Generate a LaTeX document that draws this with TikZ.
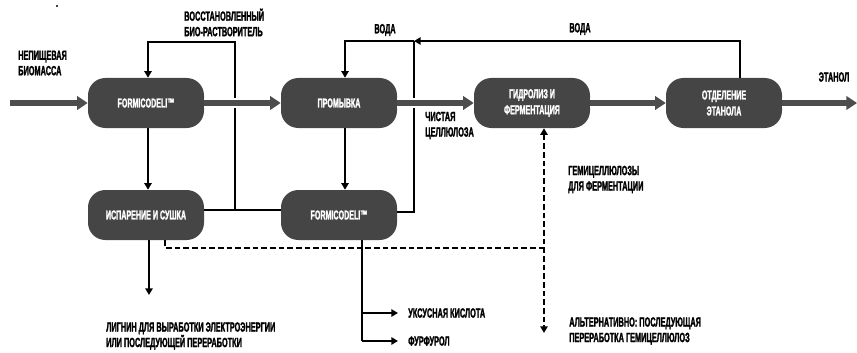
\documentclass[tikz,border=0pt]{standalone}
\usepackage{fontspec}
\usetikzlibrary{arrows.meta}
\newfontfamily\condfont{Liberation Sans}[UprightFont={* Bold}, BoldFont={* Bold}, FakeStretch=0.55, FakeBold=1.6]
\definecolor{boxgray}{HTML}{454545}
\definecolor{arrgray}{HTML}{4D4D4D}
\tikzset{
  proc/.style={fill=boxgray, rounded corners=13pt, minimum width=87pt, minimum height=37.5pt,
    text=white, align=center, inner sep=2pt,
    font=\condfont\fontsize{9.7}{12}\selectfont},
  lbl/.style={inner sep=0pt, align=left, text=black,
    font=\condfont\fontsize{10}{11.6}\selectfont},
  thickarr/.style={draw=arrgray, line width=4.6pt, -{Triangle[length=8pt,width=10pt]},
    preaction={draw=white, line width=8pt, -}},
  ln/.style={draw=black, line width=1.5pt},
  tip/.style={-{Triangle[length=5pt,width=5.5pt]}},
  dsh/.style={draw=black, line width=1.5pt, dash pattern=on 4.3pt off 2.2pt}
}
\begin{document}
\begin{tikzpicture}[x=0.75pt,y=-0.75pt]
\useasboundingbox (0,0) rectangle (857,353);
\fill (57,6) circle (0.9pt);

% process boxes
\node[proc] (f1)   at (146,103) {FORMICODELI™};
\node[proc] (wash) at (339,103) {ПРОМЫВКА};
\node[proc] (hyd)  at (532,103) {ГИДРОЛИЗ И\\ФЕРМЕНТАЦИЯ};
\node[proc] (sep)  at (724,103) {ОТДЕЛЕНИЕ\\ЭТАНОЛА};
\node[proc] (evap) at (146,215) {ИСПАРЕНИЕ И СУШКА};
\node[proc] (f2)   at (339,215) {FORMICODELI™};

% coordinates
\coordinate (in)  at (10,103);
\coordinate (out) at (857,103);
\coordinate (s1) at (235,210);
\coordinate (s2) at (235,42);
\coordinate (s3) at (148,42);
\coordinate (j1) at (414,41);
\coordinate (w1) at (740,41);
\coordinate (w2) at (345,41);
\coordinate (r1) at (414,212);
\coordinate (lg) at (149,295);
\coordinate (d1) at (165,248);
\coordinate (d2) at (544,248);
\coordinate (h1) at (544,333);
\coordinate (b1) at (362,313);
\coordinate (b2) at (362,341);
\coordinate (ac) at (398,313);
\coordinate (ff) at (398,341);

% thin solid connectors
\draw[ln] (evap.east |- s1) -- (s1) -- (f2.west |- s1);
\draw[ln,tip] (s1) -- (s2) -- (s3) -- (s3 |- f1.north);
\draw[ln,tip] (sep.north -| w1) -- (w1) -- (j1);
\draw[ln,tip] (j1) -- (w2) -- (w2 |- wash.north);
\draw[ln] (f2.east |- r1) -- (r1) -- (j1);
\draw[ln,tip] (f1.south -| s3) -- (evap.north -| s3);
\draw[ln,tip] (wash.south -| w2) -- (f2.north -| w2);
\draw[ln,tip] (evap.south -| lg) -- (lg);
\draw[ln] (f2.south -| b1) -- (b2);
\draw[ln,tip] (b1) -- (ac);
\draw[ln,tip] (b2) -- (ff);

% dashed connectors
\draw[dsh] (evap.south -| d1) -- (d1) -- (d2);
\draw[dsh,{Triangle[length=5pt,width=5.5pt]}-{Triangle[length=5pt,width=5.5pt]}] (hyd.south -| h1) -- (h1);

% main thick flow
\draw[thickarr] (in) -- (f1);
\draw[thickarr] (f1) -- (wash);
\draw[thickarr] (wash) -- (hyd);
\draw[thickarr] (hyd) -- (sep);
\draw[thickarr] (sep) -- (out);

% labels
\node[lbl,anchor=west] (t1) at (18,63) {НЕПИЩЕВАЯ\\БИОМАССА};
\node[lbl,anchor=west] (t2) at (184,22.5) {ВОССТАНОВЛЕННЫЙ\\БИО-РАСТВОРИТЕЛЬ};
\node[lbl] (t3) at (385,30) {ВОДА};
\node[lbl] (t4) at (580,29) {ВОДА};
\node[lbl] (t5) at (834,77) {ЭТАНОЛ};
\node[lbl,anchor=west] (t6) at (425,125.5) {ЧИСТАЯ\\ЦЕЛЛЮЛОЗА};
\node[lbl,anchor=west] (t7) at (568,179.5) {ГЕМИЦЕЛЛЮЛОЗЫ\\ДЛЯ ФЕРМЕНТАЦИИ};
\node[lbl,anchor=west] (t8) at (569,331) {АЛЬТЕРНАТИВНО: ПОСЛЕДУЮЩАЯ\\ПЕРЕРАБОТКА ГЕМИЦЕЛЛЮЛОЗ};
\node[lbl,anchor=west] (t9) at (106,336) {ЛИГНИН ДЛЯ ВЫРАБОТКИ ЭЛЕКТРОЭНЕРГИИ\\ИЛИ ПОСЛЕДУЮЩЕЙ ПЕРЕРАБОТКИ};
\node[lbl,anchor=west] (t10) at (408,313) {УКСУСНАЯ КИСЛОТА};
\node[lbl,anchor=west] (t11) at (408,341) {ФУРФУРОЛ};
\end{tikzpicture}
\end{document}
